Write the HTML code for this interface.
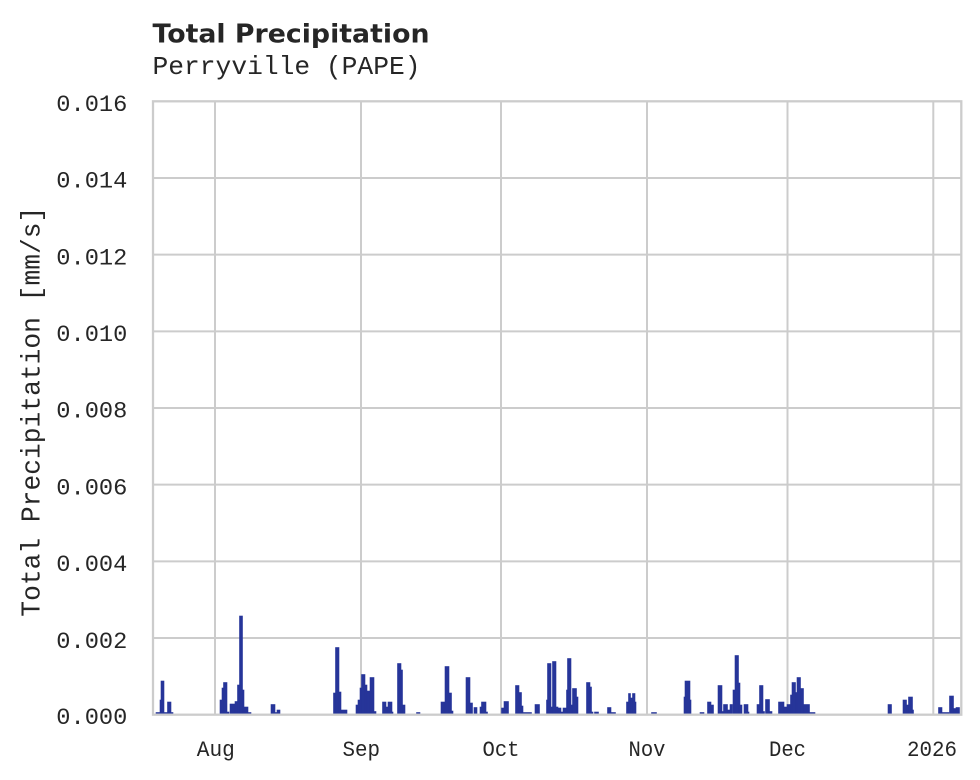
<!DOCTYPE html>
<html>
<head>
<meta charset="utf-8">
<style>
  html, body { margin: 0; padding: 0; background: #ffffff; }
  svg { display: block; }
  .mono { font-family: "Liberation Mono", "DejaVu Sans Mono", monospace; fill: #262626; }
</style>
</head>
<body>
<svg width="980" height="780" viewBox="0 0 980 780" xmlns="http://www.w3.org/2000/svg">
  <rect x="0" y="0" width="980" height="780" fill="#ffffff"/>

  <text x="152.5" y="42.7" font-family="DejaVu Sans, Liberation Sans, sans-serif" font-weight="bold" font-size="25.5" fill="#262626" textLength="277" lengthAdjust="spacingAndGlyphs">Total Precipitation</text>
  <text class="mono" x="152.5" y="74" font-size="26" textLength="268" lengthAdjust="spacingAndGlyphs">Perryville (PAPE)</text>

  <g stroke="#cccccc" stroke-width="2" fill="none">
    <line x1="153" y1="177.975" x2="961.3" y2="177.975"/>
    <line x1="153" y1="254.65" x2="961.3" y2="254.65"/>
    <line x1="153" y1="331.325" x2="961.3" y2="331.325"/>
    <line x1="153" y1="408" x2="961.3" y2="408"/>
    <line x1="153" y1="484.675" x2="961.3" y2="484.675"/>
    <line x1="153" y1="561.35" x2="961.3" y2="561.35"/>
    <line x1="153" y1="638.025" x2="961.3" y2="638.025"/>
    <line x1="215" y1="101.3" x2="215" y2="714.7"/>
    <line x1="361" y1="101.3" x2="361" y2="714.7"/>
    <line x1="501" y1="101.3" x2="501" y2="714.7"/>
    <line x1="647" y1="101.3" x2="647" y2="714.7"/>
    <line x1="787.5" y1="101.3" x2="787.5" y2="714.7"/>
    <line x1="933.3" y1="101.3" x2="933.3" y2="714.7"/>
  </g>

  <g fill="#263599" stroke="#263599" stroke-width="0.6">
    <rect x="156" y="712.5" width="4" height="1.8"/>
    <rect x="160" y="700" width="1.5" height="14.3"/>
    <rect x="161" y="681" width="3" height="33.3"/>
    <rect x="164" y="712.5" width="3.5" height="1.8"/>
    <rect x="167.5" y="702" width="3.5" height="12.3"/>
    <rect x="171" y="712.5" width="2" height="1.8"/>
    <rect x="220" y="700" width="2" height="14.3"/>
    <rect x="222" y="688" width="1.5" height="26.3"/>
    <rect x="223.5" y="682.5" width="3.5" height="31.8"/>
    <rect x="227" y="712" width="2" height="2.3"/>
    <rect x="230" y="704" width="5" height="10.3"/>
    <rect x="235" y="701.5" width="3" height="12.8"/>
    <rect x="237.5" y="685" width="2" height="29.3"/>
    <rect x="239.5" y="616" width="3" height="98.3"/>
    <rect x="242.5" y="690" width="1.5" height="24.3"/>
    <rect x="244" y="707" width="4" height="7.3"/>
    <rect x="248" y="712.5" width="3" height="1.8"/>
    <rect x="271" y="704.5" width="4" height="9.8"/>
    <rect x="275" y="712.5" width="2" height="1.8"/>
    <rect x="277" y="710" width="3" height="4.3"/>
    <rect x="333.5" y="693" width="2" height="21.3"/>
    <rect x="335.5" y="647.5" width="3.5" height="66.8"/>
    <rect x="339" y="692" width="2" height="22.3"/>
    <rect x="341" y="710" width="6" height="4.3"/>
    <rect x="356" y="705" width="2" height="9.3"/>
    <rect x="358" y="700" width="2" height="14.3"/>
    <rect x="360" y="688" width="1.5" height="26.3"/>
    <rect x="361.5" y="674.5" width="3.5" height="39.8"/>
    <rect x="365" y="685" width="2" height="29.3"/>
    <rect x="367" y="691" width="3" height="23.3"/>
    <rect x="370" y="677.5" width="4" height="36.8"/>
    <rect x="374" y="711.5" width="2" height="2.8"/>
    <rect x="382.5" y="702" width="3.5" height="12.3"/>
    <rect x="386" y="707" width="2" height="7.3"/>
    <rect x="388" y="702" width="4" height="12.3"/>
    <rect x="392" y="712" width="1" height="2.3"/>
    <rect x="397.5" y="663.5" width="3.5" height="50.8"/>
    <rect x="401" y="670" width="1.5" height="44.3"/>
    <rect x="402.5" y="705" width="2.5" height="9.3"/>
    <rect x="416.5" y="712.5" width="3.5" height="1.8"/>
    <rect x="441" y="702" width="4" height="12.3"/>
    <rect x="445" y="666.5" width="4" height="47.8"/>
    <rect x="449" y="693" width="2.5" height="21.3"/>
    <rect x="451.5" y="711" width="1.5" height="3.3"/>
    <rect x="466" y="677.5" width="4" height="36.8"/>
    <rect x="470" y="703" width="2.5" height="11.3"/>
    <rect x="474" y="707.5" width="3" height="6.8"/>
    <rect x="480" y="707" width="1.5" height="7.3"/>
    <rect x="481.5" y="702" width="4.5" height="12.3"/>
    <rect x="486" y="712" width="1.5" height="2.3"/>
    <rect x="501.5" y="708" width="2.5" height="6.3"/>
    <rect x="504" y="701.5" width="4.5" height="12.8"/>
    <rect x="515.5" y="685.5" width="3.5" height="28.8"/>
    <rect x="519" y="692.5" width="2.5" height="21.8"/>
    <rect x="521.5" y="706" width="1.5" height="8.3"/>
    <rect x="523" y="712.5" width="8.5" height="1.8"/>
    <rect x="535" y="704.5" width="4.5" height="9.8"/>
    <rect x="546.5" y="700" width="1" height="14.3"/>
    <rect x="547.5" y="663.5" width="3.5" height="50.8"/>
    <rect x="551" y="707" width="1.5" height="7.3"/>
    <rect x="552.5" y="661.5" width="3.5" height="52.8"/>
    <rect x="556" y="707" width="2" height="7.3"/>
    <rect x="558" y="708" width="3" height="6.3"/>
    <rect x="561" y="712" width="2" height="2.3"/>
    <rect x="563" y="708" width="3.5" height="6.3"/>
    <rect x="566.5" y="690" width="1" height="24.3"/>
    <rect x="567.5" y="658.5" width="3.5" height="55.8"/>
    <rect x="571" y="705" width="1.5" height="9.3"/>
    <rect x="572.5" y="688.5" width="4" height="25.8"/>
    <rect x="576.5" y="697" width="1.5" height="17.3"/>
    <rect x="586.5" y="682.5" width="3.5" height="31.8"/>
    <rect x="590" y="687" width="1.5" height="27.3"/>
    <rect x="591.5" y="712" width="1.5" height="2.3"/>
    <rect x="594.5" y="712" width="4" height="2.3"/>
    <rect x="607.5" y="707.5" width="3.5" height="6.8"/>
    <rect x="611" y="712.5" width="4.5" height="1.8"/>
    <rect x="626.5" y="702" width="2" height="12.3"/>
    <rect x="628.5" y="693.5" width="2" height="20.8"/>
    <rect x="630.5" y="698" width="2" height="16.3"/>
    <rect x="632.5" y="693.5" width="2.5" height="20.8"/>
    <rect x="635" y="702" width="1" height="12.3"/>
    <rect x="651.5" y="712.5" width="5" height="1.8"/>
    <rect x="684" y="697" width="1" height="17.3"/>
    <rect x="685" y="681" width="5" height="33.3"/>
    <rect x="690" y="700" width="1" height="14.3"/>
    <rect x="700" y="712.5" width="4" height="1.8"/>
    <rect x="707.5" y="702" width="3.5" height="12.3"/>
    <rect x="711" y="705" width="2.5" height="9.3"/>
    <rect x="718" y="685.5" width="4" height="28.8"/>
    <rect x="722" y="711.5" width="1.5" height="2.8"/>
    <rect x="723.5" y="704.5" width="4" height="9.8"/>
    <rect x="727.5" y="710" width="2.5" height="4.3"/>
    <rect x="730" y="704.5" width="2.5" height="9.8"/>
    <rect x="733" y="690" width="2" height="24.3"/>
    <rect x="735" y="655.5" width="3.5" height="58.8"/>
    <rect x="738.5" y="683" width="1.5" height="31.3"/>
    <rect x="740" y="705" width="2" height="9.3"/>
    <rect x="744" y="704.5" width="4" height="9.8"/>
    <rect x="748" y="712" width="1" height="2.3"/>
    <rect x="757" y="704.5" width="2.5" height="9.8"/>
    <rect x="759.5" y="685.5" width="3.5" height="28.8"/>
    <rect x="763" y="711.5" width="1.5" height="2.8"/>
    <rect x="765.5" y="699.5" width="4" height="14.8"/>
    <rect x="769.5" y="711.5" width="2.5" height="2.8"/>
    <rect x="778.5" y="702" width="5.5" height="12.3"/>
    <rect x="784" y="707" width="3" height="7.3"/>
    <rect x="787" y="704.5" width="3.5" height="9.8"/>
    <rect x="790.5" y="695" width="1.5" height="19.3"/>
    <rect x="792" y="682.5" width="3.5" height="31.8"/>
    <rect x="795.5" y="692.5" width="1.5" height="21.8"/>
    <rect x="797" y="677.5" width="3.5" height="36.8"/>
    <rect x="800.5" y="688.5" width="3" height="25.8"/>
    <rect x="803.5" y="704.5" width="6" height="9.8"/>
    <rect x="809.5" y="712.5" width="5.5" height="1.8"/>
    <rect x="888" y="704.5" width="3.5" height="9.8"/>
    <rect x="903" y="700" width="3.5" height="14.3"/>
    <rect x="906.5" y="705" width="2" height="9.3"/>
    <rect x="908.5" y="697" width="4" height="17.3"/>
    <rect x="912.5" y="710" width="1" height="4.3"/>
    <rect x="938.5" y="707.5" width="3.5" height="6.8"/>
    <rect x="942" y="712.5" width="7" height="1.8"/>
    <rect x="949.5" y="696" width="4" height="18.3"/>
    <rect x="953.5" y="708.5" width="2.5" height="5.8"/>
    <rect x="956" y="707.5" width="3.5" height="6.8"/>
  </g>

  <rect x="153" y="101.3" width="808.3" height="613.4" fill="none" stroke="#cccccc" stroke-width="2.3"/>

  <g class="mono" font-size="23.5" text-anchor="end">
    <text x="127.3" y="111" textLength="71" lengthAdjust="spacingAndGlyphs">0.016</text>
    <text x="127.3" y="187.7" textLength="71" lengthAdjust="spacingAndGlyphs">0.014</text>
    <text x="127.3" y="264.4" textLength="71" lengthAdjust="spacingAndGlyphs">0.012</text>
    <text x="127.3" y="341" textLength="71" lengthAdjust="spacingAndGlyphs">0.010</text>
    <text x="127.3" y="417.7" textLength="71" lengthAdjust="spacingAndGlyphs">0.008</text>
    <text x="127.3" y="494.4" textLength="71" lengthAdjust="spacingAndGlyphs">0.006</text>
    <text x="127.3" y="571.1" textLength="71" lengthAdjust="spacingAndGlyphs">0.004</text>
    <text x="127.3" y="647.8" textLength="71" lengthAdjust="spacingAndGlyphs">0.002</text>
    <text x="127.3" y="724.2" textLength="71" lengthAdjust="spacingAndGlyphs">0.000</text>
  </g>

  <g class="mono" font-size="22" text-anchor="middle">
    <text x="215.8" y="756" textLength="38" lengthAdjust="spacingAndGlyphs">Aug</text>
    <text x="361.3" y="756" textLength="37.5" lengthAdjust="spacingAndGlyphs">Sep</text>
    <text x="501" y="756" textLength="37" lengthAdjust="spacingAndGlyphs">Oct</text>
    <text x="647" y="756" textLength="37" lengthAdjust="spacingAndGlyphs">Nov</text>
    <text x="787.5" y="756" textLength="37" lengthAdjust="spacingAndGlyphs">Dec</text>
    <text x="932" y="756" textLength="50" lengthAdjust="spacingAndGlyphs">2026</text>
  </g>

  <text class="mono" font-size="26.5" text-anchor="middle" transform="translate(39.5,411.7) rotate(-90)" x="0" y="0" textLength="410" lengthAdjust="spacingAndGlyphs">Total Precipitation [mm/s]</text>
</svg>
</body>
</html>
